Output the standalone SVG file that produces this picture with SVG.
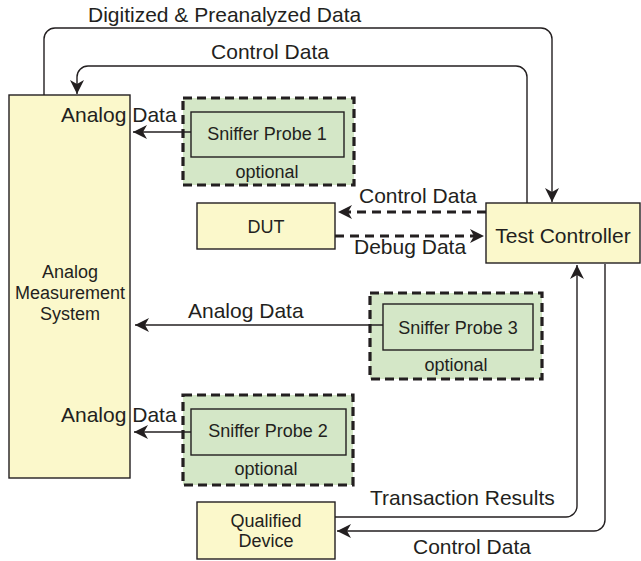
<svg xmlns="http://www.w3.org/2000/svg" width="641" height="561" viewBox="0 0 641 561">
  <style>
    text { font-family: "Liberation Sans", Arial, sans-serif; fill: #231f20; }
    .lbl { font-size: 21px; }
    .box { font-size: 18px; }
    .yel { fill: #fbf8cb; stroke: #231f20; stroke-width: 1.4; }
    .grn { fill: #d4e7c7; stroke: #231f20; stroke-width: 1.4; }
    .opt { fill: #d4e7c7; stroke: #231f20; stroke-width: 3.2; stroke-dasharray: 9 5; }
    .wire { fill: none; stroke: #231f20; stroke-width: 1.4; }
    .dash { fill: none; stroke: #231f20; stroke-width: 3; stroke-dasharray: 9 6; }
  </style>
  <defs>
    <marker id="arr" markerUnits="userSpaceOnUse" markerWidth="16" markerHeight="16" refX="14" refY="7" orient="auto" overflow="visible">
      <path d="M0,0 L14,7 L0,14 L4,7 Z" fill="#231f20"/>
    </marker>
  </defs>

  <rect width="641" height="561" fill="#ffffff"/>

  <!-- nodes -->
  <g id="ams">
    <rect class="yel" x="9" y="95" width="121" height="383"/>
    <text class="box" x="70" y="278" text-anchor="middle">Analog</text>
    <text class="box" x="70" y="299" text-anchor="middle">Measurement</text>
    <text class="box" x="70" y="320" text-anchor="middle">System</text>
  </g>

  <g id="probe1">
    <rect class="opt" x="183" y="98" width="171" height="87"/>
    <rect class="grn" x="191" y="112" width="153" height="45"/>
    <text class="box" x="267" y="140" text-anchor="middle">Sniffer Probe 1</text>
    <text class="box" x="267" y="178" text-anchor="middle">optional</text>
  </g>

  <g id="dut">
    <rect class="yel" x="197" y="203" width="138" height="46"/>
    <text class="box" x="266" y="233" text-anchor="middle">DUT</text>
  </g>

  <g id="test-controller">
    <rect class="yel" x="486" y="203" width="154" height="60"/>
    <text class="lbl" x="563" y="243" text-anchor="middle">Test Controller</text>
  </g>

  <g id="probe3">
    <rect class="opt" x="370" y="293" width="172" height="86"/>
    <rect class="grn" x="383" y="304" width="150" height="46"/>
    <text class="box" x="458" y="334" text-anchor="middle">Sniffer Probe 3</text>
    <text class="box" x="456" y="371" text-anchor="middle">optional</text>
  </g>

  <g id="probe2">
    <rect class="opt" x="183" y="395" width="170" height="90"/>
    <rect class="grn" x="191" y="409" width="155" height="46"/>
    <text class="box" x="268" y="437" text-anchor="middle">Sniffer Probe 2</text>
    <text class="box" x="266" y="475" text-anchor="middle">optional</text>
  </g>

  <g id="qualified-device">
    <rect class="yel" x="197" y="502" width="138" height="57"/>
    <text class="box" x="266" y="527" text-anchor="middle">Qualified</text>
    <text class="box" x="266" y="547" text-anchor="middle">Device</text>
  </g>

  <!-- connectors, drawn over the boxes so labels that cross an edge stay visible -->
  <g id="connectors">
    <path class="wire" d="M44,95 V39 A11,11 0 0 1 55,28 H541 A11,11 0 0 1 552,39 V202" marker-end="url(#arr)"/>
    <text class="lbl" x="88" y="22">Digitized &amp; Preanalyzed Data</text>

    <path class="wire" d="M527,203 V77 A11,11 0 0 0 516,66 H88 A11,11 0 0 0 77,77 V94" marker-end="url(#arr)"/>
    <text class="lbl" x="270" y="59" text-anchor="middle">Control Data</text>

    <path class="wire" d="M191,132 H133" marker-end="url(#arr)"/>
    <text class="lbl" x="61" y="122">Analog Data</text>

    <path class="wire" d="M383,325 H135" marker-end="url(#arr)"/>
    <text class="lbl" x="188" y="318">Analog Data</text>

    <path class="wire" d="M191,432 H134" marker-end="url(#arr)"/>
    <text class="lbl" x="61" y="422">Analog Data</text>

    <path class="dash" d="M486,212 H338" marker-end="url(#arr)"/>
    <text class="lbl" x="359" y="203">Control Data</text>

    <path class="dash" d="M335,236 H484" marker-end="url(#arr)"/>
    <text class="lbl" x="354" y="254">Debug Data</text>

    <path class="wire" d="M335,517 H566 A11,11 0 0 0 577,506 V265" marker-end="url(#arr)"/>
    <text class="lbl" x="370" y="505">Transaction Results</text>

    <path class="wire" d="M605,264 V520 A11,11 0 0 1 594,531 H337" marker-end="url(#arr)"/>
    <text class="lbl" x="413" y="554">Control Data</text>
  </g>
</svg>
